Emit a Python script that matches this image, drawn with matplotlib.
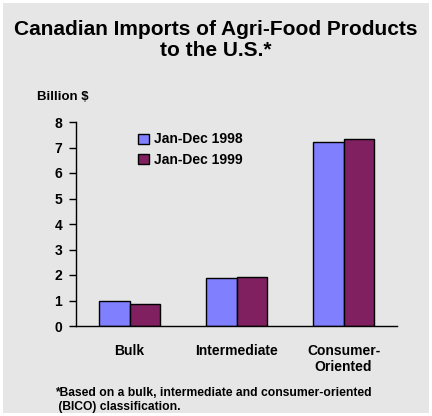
import matplotlib
matplotlib.use("Agg")
import matplotlib.pyplot as plt
import numpy as np
from matplotlib.patches import Rectangle

plt.rcParams['font.family'] = ['Liberation Sans', 'DejaVu Sans']

categories = ["Bulk", "Intermediate", "Consumer-\nOriented"]
series_names = ["Jan-Dec 1998", "Jan-Dec 1999"]
values_1998 = [0.97, 1.89, 7.20]
values_1999 = [0.87, 1.93, 7.32]
yticks = [0, 1, 2, 3, 4, 5, 6, 7, 8]

W, H = 432, 416
fig = plt.figure(figsize=(W / 100, H / 100), dpi=100)
fig.patch.set_facecolor("white")
fig.patches.append(Rectangle((3 / W, 3 / H), (W - 6) / W, (H - 6) / H,
                             transform=fig.transFigure, facecolor="#e6e6e6",
                             edgecolor="none", zorder=-10))

ax = fig.add_axes([76 / W, 1 - 326 / H, (397 - 76) / W, (326 - 122) / H])
ax.set_zorder(5)
ax.set_facecolor("none")

x = np.arange(len(categories))
w = 0.285
ax.bar(x - w / 2, values_1998, w, color="#8080ff", edgecolor="black", linewidth=1,
       label=series_names[0], zorder=2)
ax.bar(x + w / 2, values_1999, w, color="#802060", edgecolor="black", linewidth=1,
       label=series_names[1], zorder=2)

ax.set_xlim(-0.5, 2.5)
ax.set_ylim(0, 8)
ax.set_yticks(yticks)
ax.set_yticklabels([str(t) for t in yticks], fontsize=10, fontweight="bold")
ax.set_xticks(x)
ax.set_xticklabels(categories, fontsize=10, fontweight="bold", linespacing=1.2)
ax.tick_params(axis="x", length=0, pad=13)
ax.tick_params(axis="y", length=5, width=1, direction="out", pad=5)
for s in ["top", "right"]:
    ax.spines[s].set_visible(False)
ax.spines["left"].set_linewidth(1)
ax.spines["bottom"].set_linewidth(1)

leg = ax.legend(loc="upper left", bbox_to_anchor=(0.155, 1.01), frameon=False,
                prop={"size": 10, "weight": "bold"}, handlelength=0.75,
                handleheight=0.75, handletextpad=0.35, labelspacing=0.45)

fig.text(0.5, 1 - 40 / H, "Canadian Imports of Agri-Food Products\nto the U.S.*",
         ha="center", va="center", fontsize=15, fontweight="bold", linespacing=1.15)
fig.text(37 / W, 1 - 97 / H, "Billion $", ha="left", va="center",
         fontsize=9.5, fontweight="bold")
fig.text(55 / W, 1 - 387 / H,
         "*Based on a bulk, intermediate and consumer-oriented\n (BICO) classification.",
         ha="left", va="top", fontsize=8.7, fontweight="bold", linespacing=1.25)

fig.savefig("out.png", dpi=100, facecolor=fig.get_facecolor())
